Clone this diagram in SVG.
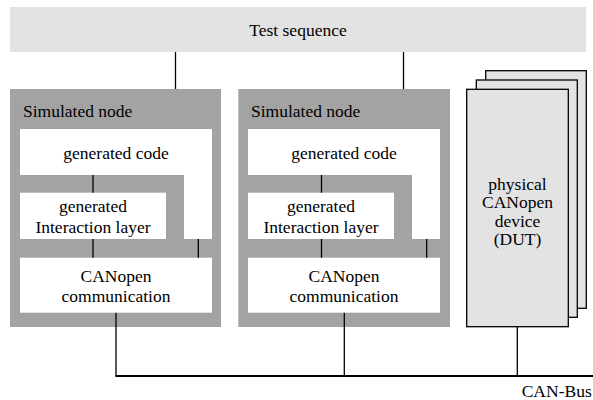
<svg xmlns="http://www.w3.org/2000/svg" width="593" height="400" viewBox="0 0 593 400">
<style>
text{font-family:"Liberation Serif","Times New Roman",serif;font-size:17.5px;fill:#000}
.c{text-anchor:middle}
.banner{fill:#e3e3e3}
.sim{fill:#a3a3a3}
.w{fill:#fff}
.card{fill:#e3e3e3;stroke:#000;stroke-width:1.3}
.ln{stroke:#000;stroke-width:1.3;fill:none}
.bus{stroke:#000;stroke-width:2;fill:none}
</style>
<rect width="593" height="400" fill="#fff"/>
<g id="test-sequence">
<rect class="banner" x="10" y="7" width="576" height="45"/>
<text class="c" x="298" y="36">Test sequence</text>
</g>
<g id="sim-node-1">
<rect class="sim" x="10" y="89" width="211" height="238"/>
<text x="23" y="116.5">Simulated node</text>
<g id="gen-code-1">
<path class="w" d="M20 129H212V239H184V175H20Z"/>
<text class="c" x="116" y="159">generated code</text>
</g>
<g id="il-1">
<rect class="w" x="20" y="192.7" width="146" height="46.3"/>
<text class="c" x="93" y="212.3">generated</text>
<text class="c" x="93" y="233.3">Interaction layer</text>
</g>
<g id="canopen-1">
<rect class="w" x="20" y="257.7" width="192" height="55"/>
<text class="c" x="116" y="281.7">CANopen</text>
<text class="c" x="116" y="301.7">communication</text>
</g>
</g>
<g id="sim-node-2">
<rect class="sim" x="238.3" y="89" width="211.7" height="238"/>
<text x="251" y="116.5">Simulated node</text>
<g id="gen-code-2">
<path class="w" d="M248 129H440V239H412V175H248Z"/>
<text class="c" x="344" y="159">generated code</text>
</g>
<g id="il-2">
<rect class="w" x="248" y="192.7" width="146" height="46.3"/>
<text class="c" x="321" y="212.3">generated</text>
<text class="c" x="321" y="233.3">Interaction layer</text>
</g>
<g id="canopen-2">
<rect class="w" x="248" y="257.7" width="192" height="55"/>
<text class="c" x="344" y="281.7">CANopen</text>
<text class="c" x="344" y="301.7">communication</text>
</g>
</g>
<g id="dut">
<rect class="card" x="485.7" y="70.7" width="100.6" height="237.6"/>
<rect class="card" x="476.3" y="80" width="101" height="237.3"/>
<rect class="card" x="466.7" y="89.3" width="101.6" height="237.4"/>
<text class="c" x="517.5" y="189.5">physical</text>
<text class="c" x="517.5" y="208">CANopen</text>
<text class="c" x="517.5" y="226.5">device</text>
<text class="c" x="517.5" y="245">(DUT)</text>
</g>
<g id="connectors">
<line class="ln" x1="175.5" y1="52" x2="175.5" y2="89"/>
<line class="ln" x1="403.5" y1="52" x2="403.5" y2="89"/>
<line class="ln" x1="93" y1="175" x2="93" y2="192.7"/>
<line class="ln" x1="93" y1="239" x2="93" y2="257.7"/>
<line class="ln" x1="198.3" y1="239" x2="198.3" y2="257.7"/>
<line class="ln" x1="321.5" y1="175" x2="321.5" y2="192.7"/>
<line class="ln" x1="321.5" y1="239" x2="321.5" y2="257.7"/>
<line class="ln" x1="426.7" y1="239" x2="426.7" y2="257.7"/>
<line class="ln" x1="116" y1="312.7" x2="116" y2="376"/>
<line class="ln" x1="344.3" y1="312.7" x2="344.3" y2="376"/>
<line class="ln" x1="517.3" y1="326.7" x2="517.3" y2="376"/>
<line class="bus" x1="115.4" y1="376" x2="593" y2="376"/>
</g>
<g id="can-bus-label">
<text x="521.7" y="396.5">CAN-Bus</text>
</g>
</svg>
